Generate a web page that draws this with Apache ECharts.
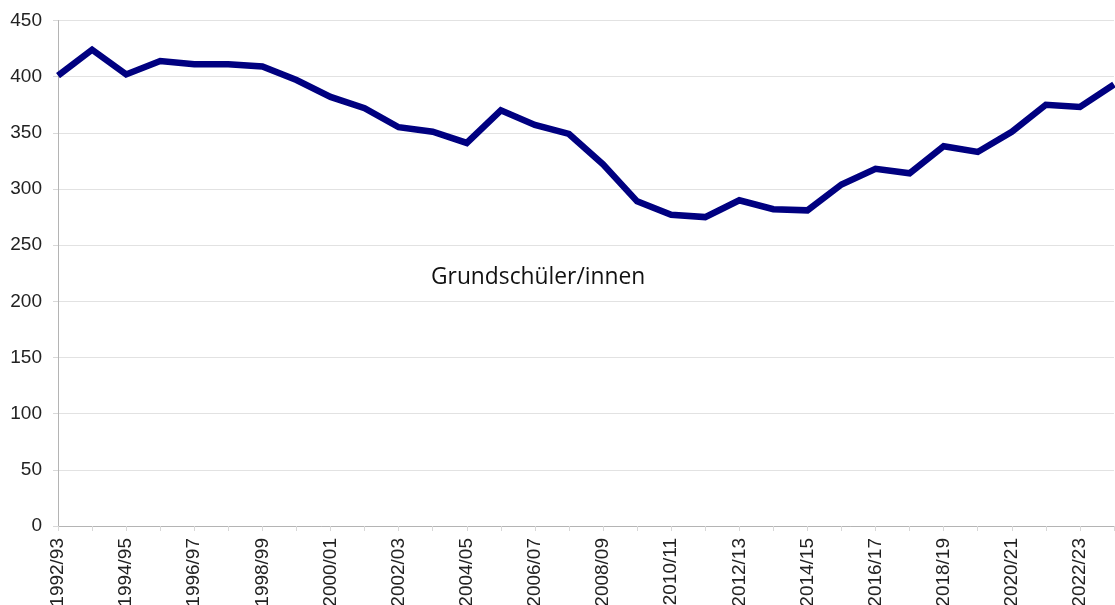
<!DOCTYPE html>
<html>
<head>
<meta charset="utf-8">
<script src="https://cdn.jsdelivr.net/npm/echarts@6/dist/echarts.min.js"></script>
<style>
html,body{margin:0;padding:0;background:#fff;}
#chart{width:1115px;height:605px;}
</style>
</head>
<body>
<div id="chart"></div>
<script>
const categories = ["1992/93","1993/94","1994/95","1995/96","1996/97","1997/98","1998/99","1999/00","2000/01","2001/02","2002/03","2003/04","2004/05","2005/06","2006/07","2007/08","2008/09","2009/10","2010/11","2011/12","2012/13","2013/14","2014/15","2015/16","2016/17","2017/18","2018/19","2019/20","2020/21","2021/22","2022/23","2023/24"];
const grundschueler = [401, 424, 402, 414, 411, 411, 409, 397, 382, 372, 355, 351, 341, 370, 357, 349, 322, 289, 277, 275, 290, 282, 281, 304, 318, 314, 338, 333, 351, 375, 373, 393];
const seriesLabel = "Grundschüler/innen";

const chart = echarts.init(document.getElementById('chart'), null, {renderer:'canvas'});
chart.setOption({
  animation: false,
  backgroundColor: '#fff',
  grid: {left: 58, right: 1, top: 20.5, bottom: 79, containLabel: false, outerBoundsMode: 'none'},
  xAxis: {
    type: 'category',
    data: categories,
    boundaryGap: false,
    axisLine: {show: true, lineStyle: {color: '#b4b4b4', width: 1}},
    axisTick: {show: true, interval: 0, length: 5, lineStyle: {color: '#d8d8d8'}},
    axisLabel: {interval: 1, rotate: 90, margin: 12, fontFamily: 'Liberation Sans, Arial, sans-serif', fontSize: 19, color: '#222'},
    splitLine: {show: false}
  },
  yAxis: {
    type: 'value',
    min: 0, max: 450, interval: 50,
    axisLine: {show: true, lineStyle: {color: '#b4b4b4', width: 1}},
    axisTick: {show: true, length: 5, lineStyle: {color: '#d8d8d8'}},
    axisLabel: {margin: 16, fontFamily: 'Liberation Sans, Arial, sans-serif', fontSize: 19, color: '#222'},
    splitLine: {show: true, lineStyle: {color: '#e2e2e2', width: 1}}
  },
  series: [{
    name: seriesLabel,
    type: 'line',
    data: grundschueler,
    symbol: 'none',
    lineStyle: {color: '#000080', width: 6.5, join: 'miter'},
    itemStyle: {color: '#000080'}
  }],
  graphic: [{
    type: 'text',
    left: 431,
    top: 266,
    style: {text: seriesLabel, font: '22.8px "Open Sans", sans-serif', fill: '#111'}
  }]
});
</script>
</body>
</html>
